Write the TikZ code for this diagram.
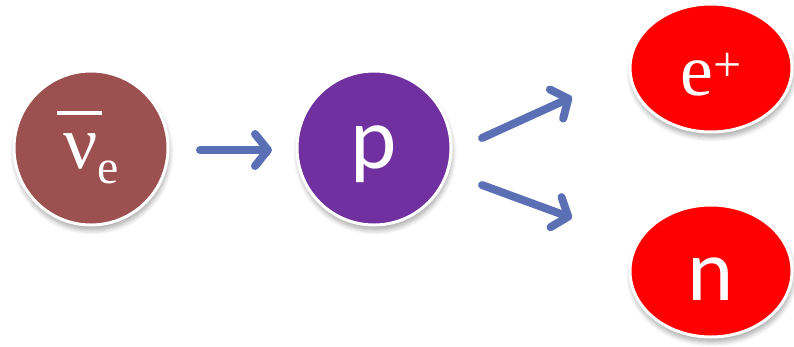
\documentclass[tikz,border=0pt]{standalone}
\usepackage{fontspec}
\newfontfamily\serifparticle{Liberation Serif}
\newfontfamily\sansparticle{Carlito}
\usetikzlibrary{arrows.meta,shapes.geometric,shadows.blur}
\definecolor{nucol}{HTML}{9C5050}
\definecolor{pcol}{HTML}{7030A0}
\definecolor{leptoncol}{HTML}{FF0000}
\definecolor{flowcol}{HTML}{5B6FB4}
\begin{document}
\begin{tikzpicture}[x=1pt,y=-1pt,
  softshadow/.style={blur shadow={shadow xshift=1pt, shadow yshift=-5pt,
      shadow blur radius=5pt, shadow blur steps=8, shadow opacity=35}},
  particle/.style={circle, fill=#1, draw=white, line width=3pt,
      minimum size=154pt, inner sep=0pt, text=white, softshadow},
  product/.style={ellipse, fill=leptoncol, draw=white, line width=3pt,
      inner sep=0pt, text=white, softshadow},
  flow/.style={draw=flowcol, line width=8pt, line cap=round,
      -{Straight Barb[length=13pt, width=32pt, round]}}]
\useasboundingbox (0,0) rectangle (794,346);

% incoming antineutrino and target proton
\node[particle=nucol, text height=60pt, text depth=20pt] (nu) at (91,148)
  {\serifparticle\fontsize{76}{76}\selectfont ν\raisebox{-15pt}{\fontsize{48}{48}\selectfont e}};
\draw[white, line width=4.5pt] (57,113) -- (102,113);
\node[particle=pcol, text height=60pt, text depth=20pt] (p) at (374,148)
  {\sansparticle\fontsize{88}{88}\selectfont p};

% reaction products
\node[product, minimum width=162pt, minimum height=128pt,
      text height=64pt, text depth=10pt] (ep) at (711,68)
  {\serifparticle\fontsize{74}{74}\selectfont e\raisebox{14pt}{\fontsize{50}{50}\selectfont +}};
\node[product, minimum width=162pt, minimum height=132pt,
      text height=70pt, text depth=12pt] (n) at (711,271)
  {\sansparticle\fontsize{88}{88}\selectfont n};

% reaction arrows
\coordinate (h1) at (200,150);
\coordinate (h2) at (272,150);
\coordinate (u1) at (482,138);
\coordinate (u2) at (572,97);
\coordinate (d1) at (482,185);
\coordinate (d2) at (572,218);
\draw[flow] (h1) -- (h2);
\draw[flow] (u1) -- (u2);
\draw[flow] (d1) -- (d2);
\end{tikzpicture}
\end{document}
